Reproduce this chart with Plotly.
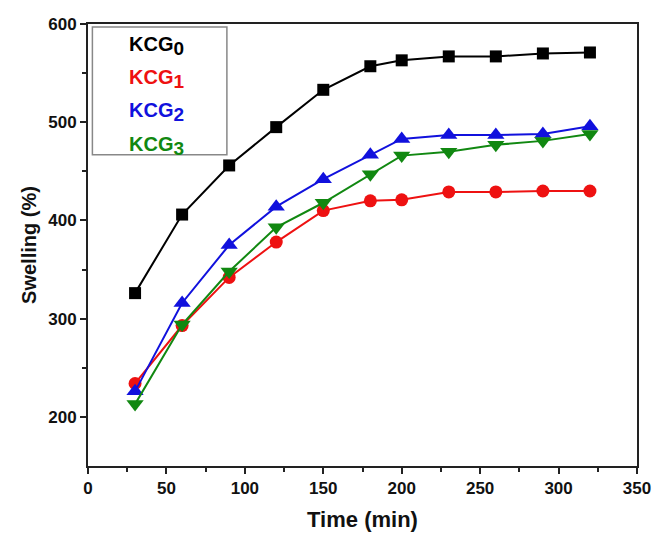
import plotly.graph_objects as go

time_min = [30, 60, 90, 120, 150, 180, 200, 230, 260, 290, 320]
kcg0 = [326, 406, 456, 495, 533, 557, 563, 567, 567, 570, 571]
kcg1 = [234, 293, 342, 378, 410, 420, 421, 429, 429, 430, 430]
kcg2 = [226, 316, 375, 414, 442, 467, 483, 487, 487, 488, 496]
kcg3 = [213, 294, 348, 393, 418, 447, 466, 470, 477, 481, 488]

x_ticks = [0, 50, 100, 150, 200, 250, 300, 350]
y_ticks = [200, 300, 400, 500, 600]

labels = ["KCG", "KCG", "KCG", "KCG"]
subs = ["0", "1", "2", "3"]

series = [
    (kcg0, "#000000", "square", 12),
    (kcg1, "#ee1111", "circle", 13),
    (kcg2, "#1111dd", "triangle-up", 15),
    (kcg3, "#118811", "triangle-down", 15),
]

fig = go.Figure()
for (vals, col, sym, sz), lab, sb in zip(series, labels, subs):
    fig.add_trace(go.Scatter(
        x=time_min, y=vals, mode="lines+markers", name=lab + sb,
        line=dict(color=col, width=2),
        marker=dict(symbol=sym, size=sz, color=col),
        showlegend=False,
    ))

# legend box drawn as text annotations
fig.add_shape(type="rect", xref="paper", yref="paper",
              x0=0.008, x1=0.253, y0=0.704, y1=0.993,
              line=dict(color="#888888", width=1.5), fillcolor="white", layer="below")
ys = [0.950, 0.875, 0.800, 0.723]
for (vals, col, sym, sz), lab, sb, yy in zip(series, labels, subs, ys):
    txt = lab + "<sub><span style='font-size:19px'>" + sb + "</span></sub>"
    fig.add_annotation(x=0.125, y=yy, xref="paper", yref="paper", text=txt,
                       showarrow=False,
                       font=dict(color=col, size=20, family="Liberation Sans", weight="bold"),
                       xanchor="center", yanchor="middle")

axis_common = dict(
    showline=True, linecolor="#222222", linewidth=2, mirror=True,
    ticks="outside", ticklen=6, tickwidth=1.5, tickcolor="#222222",
    showgrid=False, zeroline=False,
    tickfont=dict(family="Liberation Sans", size=17, color="#111111", weight="bold"),
)
fig.update_xaxes(range=[0, 350], tickvals=x_ticks,
                 ticktext=["<b>%d</b>" % v for v in x_ticks],
                 minor=dict(ticks="outside", ticklen=4, dtick=25, tickcolor="#222222"),
                 title=dict(text="Time (min)", font=dict(family="Liberation Sans", size=22, color="#111111", weight="bold"), standoff=14),
                 **axis_common)
fig.update_yaxes(range=[150, 600], tickvals=y_ticks,
                 ticktext=["<b>%d</b>" % v for v in y_ticks],
                 minor=dict(ticks="outside", ticklen=4, tickvals=[250, 350, 450, 550], tickcolor="#222222"),
                 title=dict(text="Swelling (%)", font=dict(family="Liberation Sans", size=20, color="#111111", weight="bold"), standoff=6),
                 **axis_common)
fig.update_layout(
    width=665, height=550,
    margin=dict(l=88, r=28, t=24, b=84),
    plot_bgcolor="white", paper_bgcolor="white",
    font=dict(family="Liberation Sans"),
)
fig.write_html("out.html")
